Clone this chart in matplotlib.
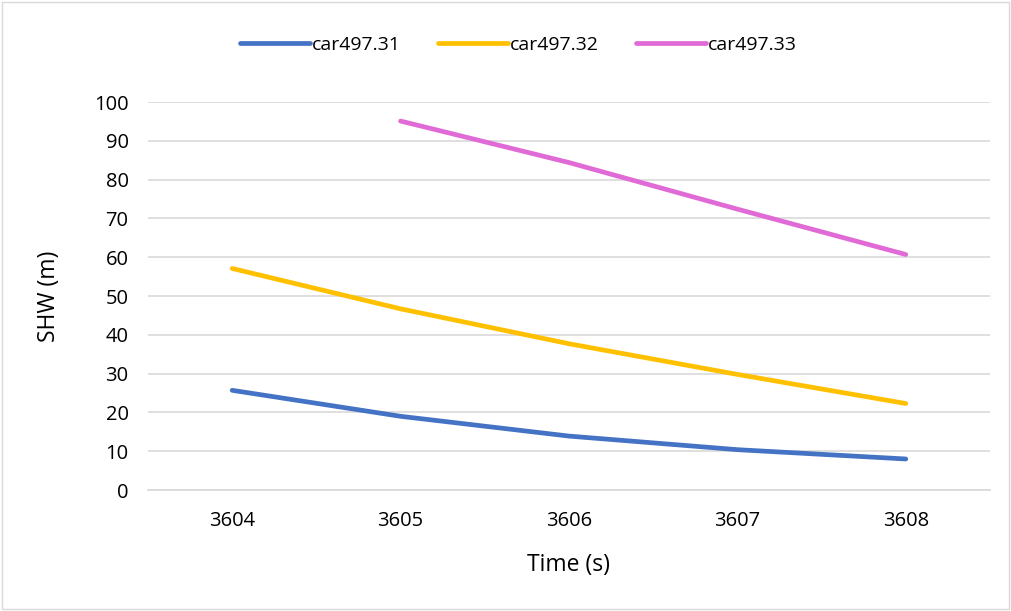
import matplotlib.pyplot as plt
from matplotlib.patches import Rectangle

# Datos
tiempo = [3604, 3605, 3606, 3607, 3608]
car31 = [25.7, 19.0, 13.9, 10.4, 8.0]
car32 = [57.1, 46.7, 37.7, 29.8, 22.3]
t33 = [3605, 3606, 3607, 3608]
car33 = [95.1, 84.4, 72.4, 60.7]

plt.rcParams['font.family'] = ['Open Sans', 'DejaVu Sans']

fig = plt.figure(figsize=(10.11, 6.11), dpi=100)
ax = fig.add_axes([0.1464, 0.198, 0.8328, 0.635])

ax.plot(tiempo, car31, color='#4472c4', lw=3.4, solid_capstyle='round', label='car497.31')
ax.plot(tiempo, car32, color='#ffc000', lw=3.4, solid_capstyle='round', label='car497.32')
ax.plot(t33, car33, color='#e06bd6', lw=3.4, solid_capstyle='round', label='car497.33')

ax.set_xlim(3603.5, 3608.5)
ax.set_ylim(0, 100)
ax.set_xticks(tiempo)
ax.set_yticks(range(0, 101, 10))
ax.tick_params(length=0, labelsize=14.5, colors='black')
ax.tick_params(axis='x', pad=15)
ax.tick_params(axis='y', pad=14)
ax.grid(axis='y', color='#d9d9d9', lw=1.2)
ax.set_axisbelow(True)
for s in ['top', 'right', 'left']:
    ax.spines[s].set_visible(False)
ax.spines['bottom'].set_color('#d9d9d9')
ax.spines['bottom'].set_linewidth(1.2)

ax.set_xlabel('Time (s)', fontsize=16.5, labelpad=16)
ax.set_ylabel('SHW (m)', fontsize=16.5, labelpad=24)

fig.legend(loc='center', bbox_to_anchor=(0.513, 0.926), ncol=3, frameon=False,
           fontsize=14, handlelength=3.6, handletextpad=0.1, columnspacing=1.9)

fig.patches.append(Rectangle((0.002, 0.003), 0.996, 0.994, transform=fig.transFigure,
                             fill=False, edgecolor='#d9d9d9', lw=1))

plt.savefig('out.png', dpi=100)
